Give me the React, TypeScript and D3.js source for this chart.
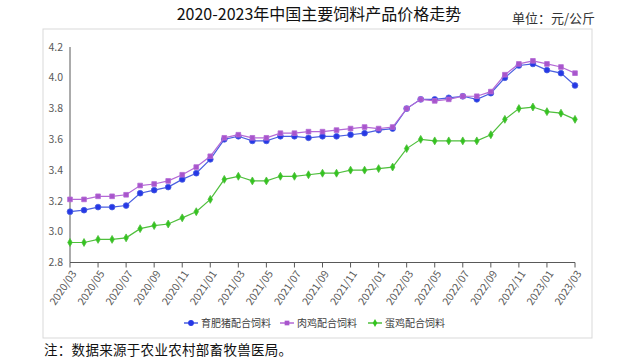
import React from "react";
import * as d3 from "d3";

// monthly labels, 2020/03 .. 2023/03
const months = [
  "2020/03", "2020/04", "2020/05", "2020/06", "2020/07", "2020/08", "2020/09", "2020/10", "2020/11", "2020/12",
  "2021/01", "2021/02", "2021/03", "2021/04", "2021/05", "2021/06", "2021/07", "2021/08", "2021/09", "2021/10", "2021/11", "2021/12",
  "2022/01", "2022/02", "2022/03", "2022/04", "2022/05", "2022/06", "2022/07", "2022/08", "2022/09", "2022/10", "2022/11", "2022/12",
  "2023/01", "2023/02", "2023/03",
];

const pig = [
  3.13, 3.14, 3.16, 3.16, 3.17, 3.25, 3.27, 3.29, 3.34, 3.38,
  3.47, 3.60, 3.62, 3.59, 3.59, 3.62, 3.62, 3.61, 3.62, 3.62, 3.63, 3.64,
  3.66, 3.67, 3.80, 3.86, 3.86, 3.87, 3.88, 3.86, 3.90, 4.00, 4.08, 4.09,
  4.05, 4.03, 3.95,
];

const broiler = [
  3.21, 3.21, 3.23, 3.23, 3.24, 3.30, 3.31, 3.33, 3.37, 3.42,
  3.49, 3.61, 3.63, 3.61, 3.61, 3.64, 3.64, 3.65, 3.65, 3.66, 3.67, 3.68,
  3.67, 3.68, 3.80, 3.86, 3.85, 3.86, 3.88, 3.88, 3.91, 4.02, 4.09, 4.11,
  4.09, 4.07, 4.03,
];

const layer = [
  2.93, 2.93, 2.95, 2.95, 2.96, 3.02, 3.04, 3.05, 3.09, 3.13,
  3.21, 3.34, 3.36, 3.33, 3.33, 3.36, 3.36, 3.37, 3.38, 3.38, 3.40, 3.40,
  3.41, 3.42, 3.54, 3.60, 3.59, 3.59, 3.59, 3.59, 3.63, 3.73, 3.80, 3.81,
  3.78, 3.77, 3.73,
];

const seriesNames = ["育肥猪配合饲料", "肉鸡配合饲料", "蛋鸡配合饲料"];

const FONT = "'Noto Sans CJK SC', 'Noto Sans', sans-serif";

const width = 640, height = 364;
const left = 70, right = 575, top = 47, bottom = 262.5;

const x = d3.scaleLinear().domain([0, months.length - 1]).range([left, right]);
const y = d3.scaleLinear().domain([2.8, 4.2]).range([bottom, top]);

const series = [
  { name: seriesNames[0], values: pig, line: "#4a5fe0", fill: "#2638e6", shape: d3.symbolCircle, size: 26 },
  { name: seriesNames[1], values: broiler, line: "#b469d6", fill: "#a855cc", shape: d3.symbolSquare, size: 22 },
  { name: seriesNames[2], values: layer, line: "#4fbf3c", fill: "#33c41f", shape: d3.symbolDiamond, size: 18 },
];

const App = () => {
  const line = d3.line<number>()
    .x((d, i) => x(i))
    .y(d => y(d));

  const yTicks = y.ticks(7).map(d => (
    <text key={d} x={left - 7} y={y(d)} dy="0.35em" textAnchor="end"
      fontSize={10.5} fill="#595959" fontFamily={FONT}>{d3.format(".1f")(d)}</text>
  ));

  const xTicks = months.map((m, i) => i % 2 === 0 ? (
    <g key={m} transform={`translate(${x(i)},${bottom})`}>
      <line y1={0} y2={5} stroke="#595959" />
      <text transform="translate(4,9) rotate(-56)" textAnchor="end" dy="0.35em"
        fontSize={10.5} fill="#595959" fontFamily={FONT}>{m}</text>
    </g>
  ) : null);

  const legendX = [191, 287, 375];

  return (
    <div style={{ position: "absolute", left: 0, top: 0 }}>
      <svg width={width} height={height} style={{ display: "block", background: "#fff" }}>
        <text x={319} y={20} textAnchor="middle" fontSize={16} fill="#111" fontFamily={FONT}>
          2020-2023年中国主要饲料产品价格走势
        </text>
        <text x={512} y={23} fontSize={13} fill="#333" fontFamily={FONT}>单位：元/公斤</text>

        <rect x={43} y={29} width={549} height={309} fill="none" stroke="#d9d9d9" />

        <line x1={left} x2={left} y1={top} y2={bottom} stroke="#595959" />
        <line x1={left} x2={right} y1={bottom} y2={bottom} stroke="#595959" />
        <g>{yTicks}</g>
        <g>{xTicks}</g>

        {series.map(s => (
          <g key={s.name}>
            <path d={line(s.values) || ""} fill="none" stroke={s.line} strokeWidth={1.2} />
            {s.values.map((v, i) => (
              <path key={i} transform={`translate(${x(i)},${y(v)})`}
                d={d3.symbol(s.shape, s.size)() || ""} fill={s.fill} stroke={s.line} strokeWidth={0.8} />
            ))}
          </g>
        ))}

        {series.map((s, k) => (
          <g key={s.name} transform={`translate(${legendX[k]},323)`}>
            <line x1={-7} x2={7} stroke={s.line} strokeWidth={1.5} />
            <path d={d3.symbol(s.shape, s.size)() || ""} fill={s.fill} />
            <text x={10} dy="0.35em" fontSize={10} fill="#404040" fontFamily={FONT}>{s.name}</text>
          </g>
        ))}

        <text x={44} y={355} fontSize={13.5} fill="#111" fontFamily={FONT} letterSpacing={0.3}>注：数据来源于农业农村部畜牧兽医局。</text>
      </svg>
    </div>
  );
};

export default App;
